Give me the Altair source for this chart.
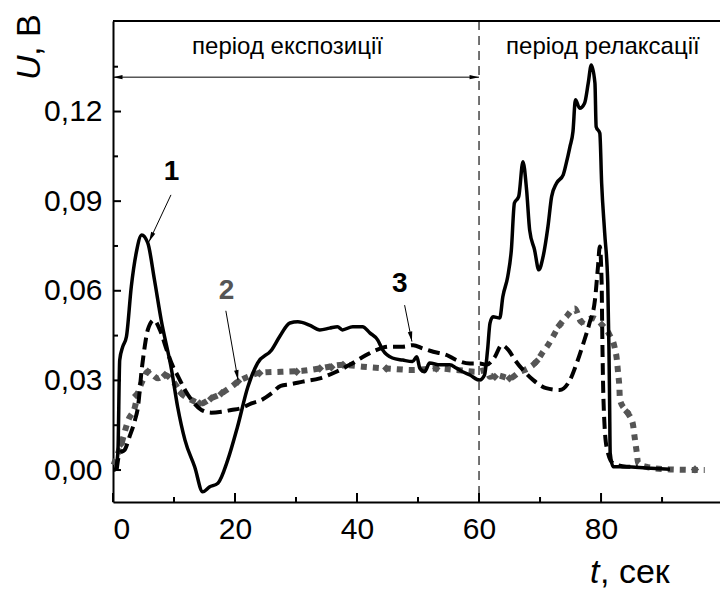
import altair as alt
import pandas as pd

# Sample 1 (solid line): time, s / voltage, V
t1 = [0.0, 0.3, 0.8, 1.1, 1.6, 2.2, 3.0, 3.8, 4.7, 5.7, 6.8, 7.9, 9.6, 10.6, 11.8, 13.4, 14.7, 15.8, 17.2, 18.8,
      20.4, 22.1, 23.7, 26.0, 27.3, 29.0, 30.3, 32.2, 33.9, 35.5, 36.8, 37.6, 39.3, 40.9, 42.1, 43.4, 44.2, 45.8, 47.5, 49.1,
      49.8, 50.3, 51.1, 51.9, 53.6, 55.2, 56.3, 57.3, 58.5, 60.1, 60.9, 61.4, 61.8, 62.3, 63.4, 63.9, 64.7, 65.3, 65.8, 66.5,
      67.2, 67.8, 68.3, 69.1, 69.8, 70.5, 71.3, 71.9, 72.7, 73.8, 74.3, 74.9, 75.4, 75.8, 76.5, 77.3, 77.9, 78.4, 79.0, 79.2,
      79.8, 80.1, 80.6, 81.1, 81.3, 81.4, 81.5, 82.0, 84.2, 87.4, 91.3]
u1 = [0.0, 0.0, 0.0057, 0.0368, 0.0413, 0.0446, 0.0614, 0.0726, 0.0787, 0.076, 0.0636, 0.0502, 0.0335, 0.0211, 0.010, 0.001, -0.0073, -0.0057, -0.0044, 0.0033,
      0.0144, 0.0278, 0.0358, 0.0402, 0.0446, 0.0492, 0.0496, 0.0485, 0.0469, 0.0475, 0.048, 0.0469, 0.048, 0.048, 0.0459, 0.0435, 0.0402, 0.0375, 0.0368, 0.0363,
      0.0379, 0.0341, 0.0329, 0.0358, 0.0352, 0.0352, 0.0341, 0.0329, 0.0318, 0.0301, 0.0318, 0.0402, 0.0492, 0.0513, 0.0509, 0.058, 0.0647, 0.0737, 0.0894, 0.0915,
      0.1032, 0.0937, 0.0803, 0.0737, 0.067, 0.0714, 0.0815, 0.0915, 0.096, 0.0988, 0.1027, 0.1082, 0.1133, 0.1239, 0.1211, 0.1228, 0.1295, 0.1356, 0.1295, 0.1149,
      0.1127, 0.096, 0.0793, 0.0626, 0.0402, 0.0234, 0.0057, 0.0011, 0.0011, 0.0007, 0.0003]

# Sample 2 (grey dotted line)
t2 = [0.1, 1.4, 2.5, 3.6, 4.1, 4.9, 5.7, 7.4, 8.5, 10.1, 11.2, 12.9, 14.5, 16.1, 17.8, 19.4, 20.5, 22.1, 24.3, 27.6,
      31.1, 33.9, 37.7, 40.9, 44.8, 49.2, 53.0, 56.3, 59.6, 61.2, 61.8, 62.9, 65.0, 66.7, 68.0, 69.4, 70.5, 71.3, 72.1, 73.2,
      74.3, 75.7, 76.8, 78.7, 80.2, 81.4, 82.2, 82.6, 82.8, 83.0, 83.1, 84.3, 85.2, 85.5, 85.8, 86.1, 87.4, 91.3, 97.0]
u2 = [0.0017, 0.009, 0.0167, 0.0212, 0.0257, 0.0301, 0.0329, 0.0307, 0.0318, 0.029, 0.0257, 0.0234, 0.0223, 0.024, 0.0257, 0.0279, 0.0296, 0.0312, 0.0326, 0.0329,
      0.0332, 0.034, 0.0352, 0.0346, 0.034, 0.0335, 0.034, 0.0335, 0.0329, 0.0335, 0.0312, 0.0318, 0.0307, 0.0329, 0.034, 0.0363, 0.0396, 0.0418, 0.0446, 0.0485,
      0.0513, 0.0541, 0.0496, 0.0508, 0.0485, 0.0452, 0.0413, 0.0368, 0.0324, 0.0279, 0.0234, 0.0193, 0.0156, 0.0111, 0.0067, 0.0022, 0.0011, 0.0002, 0.0]

# diamond markers on sample 2
td = [1.4, 3.8, 5.7, 8.5, 11.2, 14.2, 16.1, 17.8, 20.5, 24.0, 30.1, 33.9, 35.8, 37.7, 44.8, 53.0, 62.6, 65.0, 69.4, 73.2, 76.8, 84.3, 95.4]
ud = [0.0089, 0.0251, 0.0329, 0.0318, 0.0257, 0.0223, 0.024, 0.0257, 0.0296, 0.0324, 0.0329, 0.034, 0.0344, 0.0352, 0.034, 0.034, 0.0312, 0.0307, 0.0363, 0.0485, 0.0496, 0.0193, 0.0002]

# Sample 3 (dashed line)
t3 = [0.6, 1.1, 1.9, 2.7, 3.6, 4.1, 4.7, 5.2, 5.7, 6.7, 7.7, 8.8, 9.6, 10.7, 11.8, 12.9, 14.5, 16.1, 17.8, 19.4,
      21.0, 22.7, 24.3, 26.0, 27.5, 29.0, 31.1, 33.9, 36.6, 38.8, 41.0, 43.2, 45.3, 47.5, 49.2, 50.8, 52.5, 54.7, 56.3, 58.5,
      60.1, 61.2, 62.6, 63.7, 64.8, 65.9, 67.2, 68.9, 71.0, 73.2, 74.9, 76.0, 77.1, 78.1, 79.0, 79.5, 79.8, 80.1, 80.2, 80.4,
      80.9, 82.0, 84.2, 86.0]
u3 = [0.0, 0.0057, 0.0067, 0.0111, 0.0167, 0.0212, 0.0335, 0.0413, 0.0469, 0.0502, 0.0469, 0.0402, 0.0357, 0.0312, 0.0268, 0.0234, 0.0201, 0.0192, 0.0195, 0.0201,
      0.0207, 0.0223, 0.0234, 0.0257, 0.0282, 0.0287, 0.0296, 0.0307, 0.0329, 0.0352, 0.0379, 0.0402, 0.0413, 0.0413, 0.0418, 0.0407, 0.0396, 0.0385, 0.0368, 0.0357,
      0.0357, 0.0352, 0.0379, 0.0418, 0.0402, 0.0368, 0.0335, 0.0301, 0.0274, 0.0268, 0.0301, 0.0357, 0.0424, 0.0491, 0.0569, 0.0681, 0.0748, 0.0625, 0.0458, 0.0234,
      0.0078, 0.0022, 0.0011, 0.0011]

x_major = [0, 20, 40, 60, 80]
x_minor = [10, 30, 50, 70, 90]
y_major = [0.0, 0.03, 0.06, 0.09, 0.12]
y_minor = [0.015, 0.045, 0.075, 0.105, 0.135]

# curve labels and their pointer arrows
lab_text = ["1", "2", "3"]
lab_x = [9.6, 18.6, 47.0]
lab_y = [0.0996, 0.0599, 0.0623]
lab_color = ["black", "#555555", "black"]
arr_x0 = [9.5, 18.5, 47.8]
arr_y0 = [0.0921, 0.0533, 0.0552]
arr_x1 = [5.9, 20.5, 49.0]
arr_y1 = [0.0764, 0.0301, 0.043]
arr_angle = [205, 170, 169]

# exposure / relaxation periods
period_text = ["період експозиції", "період релаксації"]
period_x = [28.6, 80.3]
period_y = 0.1416
span_y = 0.1315
split_t = 60

W, H = 607, 481
FONT = "Liberation Sans"
xs = alt.Scale(domain=[0, 99.5], nice=False, zero=False)
ys = alt.Scale(domain=[-0.0107, 0.1503], nice=False, zero=False)
ARROW = "M0,0L-0.45,2L0.45,2Z"


def frame(t, u):
    return pd.DataFrame({"t": t, "u": u, "i": list(range(len(t)))})


x_axis = alt.Axis(values=x_major, format="d", title=None, grid=False, ticks=False, tickSize=0,
                  domainColor="black", domainWidth=2, labelFont=FONT, labelFontSize=30,
                  labelColor="black", labelPadding=12)
y_axis = alt.Axis(values=y_major, labelExpr="replace(format(datum.value, '.2f'), '.', ',')",
                  title=None, grid=False, ticks=False, tickSize=0, domainColor="black",
                  domainWidth=2, labelFont=FONT, labelFontSize=30, labelColor="black",
                  labelPadding=11)


def X(f="t"):
    return alt.X(f"{f}:Q", scale=xs, axis=x_axis)


def Y(f="u"):
    return alt.Y(f"{f}:Q", scale=ys, axis=y_axis)


curve2 = alt.Chart(frame(t2, u2)).mark_line(
    color="#555555", strokeWidth=6, strokeDash=[6, 6], strokeCap="butt", interpolate="monotone"
).encode(x=X(), y=Y(), order="i:Q")

diamonds = alt.Chart(pd.DataFrame({"t": td, "u": ud})).mark_point(
    shape="diamond", filled=True, color="#555555", size=70, opacity=1
).encode(x=X(), y=Y())

curve3 = alt.Chart(frame(t3, u3)).mark_line(
    color="black", strokeWidth=4, strokeDash=[12, 6], strokeCap="butt", interpolate="monotone"
).encode(x=X(), y=Y(), order="i:Q")

curve1 = alt.Chart(frame(t1, u1)).mark_line(
    color="black", strokeWidth=3.5, strokeJoin="round", interpolate="monotone"
).encode(x=X(), y=Y(), order="i:Q")

# inward tick marks
xt_major = alt.Chart(pd.DataFrame({"t": x_major})).mark_rule(color="black", strokeWidth=2).encode(
    x=X(), y=alt.value(H), y2=alt.value(H - 9))
xt_minor = alt.Chart(pd.DataFrame({"t": x_minor})).mark_rule(color="black", strokeWidth=2).encode(
    x=X(), y=alt.value(H), y2=alt.value(H - 5))
yt_major = alt.Chart(pd.DataFrame({"u": y_major})).mark_rule(color="black", strokeWidth=2).encode(
    y=Y(), x=alt.value(0), x2=alt.value(8))
yt_minor = alt.Chart(pd.DataFrame({"u": y_minor})).mark_rule(color="black", strokeWidth=2).encode(
    y=Y(), x=alt.value(0), x2=alt.value(5))
top_line = alt.Chart(pd.DataFrame({"a": [0]})).mark_rule(color="black", strokeWidth=2).encode(
    x=alt.value(0), x2=alt.value(W), y=alt.value(0))

split = alt.Chart(pd.DataFrame({"t": [split_t]})).mark_rule(
    color="#444444", strokeWidth=1.5, strokeDash=[9, 6]
).encode(x=X(), y=alt.value(0), y2=alt.value(H))

span = alt.Chart(pd.DataFrame({"t": [0], "t2": [split_t], "u": [span_y]})).mark_rule(
    color="black", strokeWidth=1
).encode(x=X(), x2="t2:Q", y=Y())
span_heads = alt.Chart(pd.DataFrame({"t": [0, split_t], "u": [span_y, span_y], "a": [270, 90]})).mark_point(
    shape=ARROW, filled=True, color="black", size=90, opacity=1, strokeWidth=0
).encode(x=X(), y=Y(), angle=alt.Angle("a:Q", scale=None))

periods = alt.Chart(pd.DataFrame({"s": period_text, "t": period_x, "u": [period_y] * 2})).mark_text(
    font=FONT, fontSize=24, color="black", baseline="middle"
).encode(x=X(), y=Y(), text="s:N")

pointers = alt.Chart(pd.DataFrame({"t": arr_x0, "u": arr_y0, "t2": arr_x1, "u2": arr_y1})).mark_rule(
    color="black", strokeWidth=1
).encode(x=X(), y=Y(), x2="t2:Q", y2="u2:Q")
pointer_heads = alt.Chart(pd.DataFrame({"t": arr_x1, "u": arr_y1, "a": arr_angle})).mark_point(
    shape=ARROW, filled=True, color="black", size=100, opacity=1, strokeWidth=0
).encode(x=X(), y=Y(), angle=alt.Angle("a:Q", scale=None))
labels = alt.Chart(pd.DataFrame({"s": lab_text, "t": lab_x, "u": lab_y, "c": lab_color})).mark_text(
    font=FONT, fontSize=28, fontWeight="bold", baseline="middle"
).encode(x=X(), y=Y(), text="s:N", color=alt.Color("c:N", scale=None))


# axis titles: italic symbol followed by upright unit
def text_piece(s, x, y, **kw):
    return alt.Chart(pd.DataFrame({"s": [s]})).mark_text(font=FONT, color="black", **kw).encode(
        text="s:N", x=alt.value(x), y=alt.value(y))


u_title = text_piece("U", -73, 59, angle=270, align="left", baseline="alphabetic", fontSize=34, fontStyle="italic")
u_unit = text_piece(", В", -73, 35, angle=270, align="left", baseline="alphabetic", fontSize=34)
t_title = text_piece("t", 477, 562, align="left", baseline="alphabetic", fontSize=34, fontStyle="italic")
t_unit = text_piece(", сек", 487, 562, align="left", baseline="alphabetic", fontSize=34)

chart = alt.layer(
    curve2, diamonds, curve3, curve1, split, span, span_heads, periods,
    pointers, pointer_heads, labels, xt_major, xt_minor, yt_major, yt_minor, top_line,
    u_title, u_unit, t_title, t_unit,
).properties(
    width=W, height=H,
    padding={"left": 113, "top": 21, "right": 0, "bottom": 89},
    autosize=alt.AutoSizeParams(type="none"),
).configure_view(stroke=None).configure(background="white")

chart.save("out.html", embed_options={"renderer": "svg", "actions": False})
